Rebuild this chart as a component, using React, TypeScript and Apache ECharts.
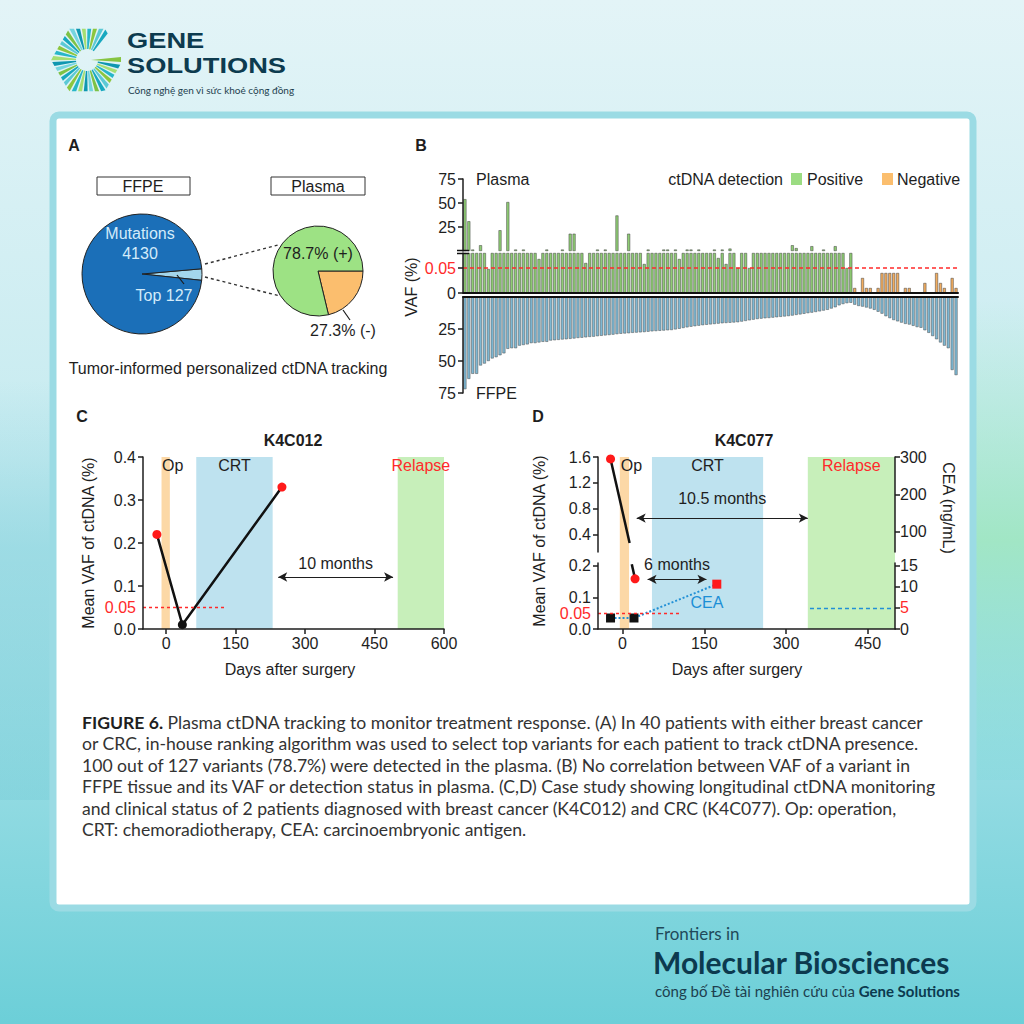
import React, { useEffect, useRef } from 'react';
import * as echarts from 'echarts';

const ARIAL = '"Liberation Sans", Arial, Helvetica, sans-serif';
const LATO = 'Lato, "Open Sans", sans-serif';
const INK = '#1e1e1e';
const RED = '#ff2a2a';

// ---------- Panel A ----------
const ffpeMutationCount = 4130;
const ffpeTopCount = 127;
const plasmaPositiveCount = 100;
const plasmaNegativeCount = 27;
const plasmaPositiveText = '78.7% (+)';
const plasmaNegativeText = '27.3% (-)';

// ---------- Panel B ----------
const plasmaVAF = [
  54, 31, 1.5, 0.4, 6, 0.5, 0.048, 0.6, 0.3, 21.6,
  0.5, 51, 0.4, 1.5, 0.6, 1.5, 0.3, 0.5, 0.4, 0.068,
  0.7, 1.5, 0.4, 0.5, 0.3, 1.5, 0.6, 18, 18, 0.4,
  0.5, 0.06, 0.3, 0.6, 1.5, 0.4, 1.5, 0.5, 0.3, 37,
  0.4, 0.5, 18, 0.6, 0.3, 0.4, 0.058, 1.5, 0.5, 0.4,
  0.3, 1.5, 1.5, 0.6, 1.5, 0.068, 0.4, 1.5, 1.5, 0.5,
  1.5, 0.3, 0.4, 0.6, 1.5, 0.07, 1.5, 0.058, 2.5, 0.4,
  0.05, 0.5, 0.3, 0.05, 0.6, 0.4, 0.5, 0.3, 0.4, 0.6,
  0.5, 0.3, 0.4, 0.5, 6, 3, 0.4, 0.6, 0.3, 5,
  0.4, 0.5, 1.5, 0.3, 0.6, 5, 0.4, 0.5, 0.05, 0.6,
  0.01, 0, 0.03, 0.01, 0.01, 0, 0.01, 0.04, 0.04, 0.04,
  0.04, 0.04, 0, 0.01, 0.01, 0, 0, 0, 0.02, 0,
  0, 0.04, 0.02, 0.01, 0, 0.03, 0.01,
];
const ffpeVAF = [
  72, 64, 60, 60, 53.5, 52, 50, 48, 47, 45.5,
  44, 40.5, 40, 40, 38, 37.5, 37, 36, 36, 35.5,
  35, 35, 34, 33.8, 33.5, 33.2, 33, 32.7, 32.4, 32,
  31.8, 31.5, 31.2, 31, 30.6, 30.3, 30, 29.7, 29.4, 29,
  28.7, 28.5, 28.3, 28, 27.8, 27.6, 27.4, 27.1, 26.8, 26.6,
  26.4, 26.2, 26, 25.8, 25.3, 24.8, 24.2, 23.7, 23.2, 22.8,
  22.4, 22, 21.7, 21.4, 21.1, 20.8, 20.5, 20.3, 20.1, 19.9,
  19.7, 19.2, 18.7, 18.2, 17.7, 17.2, 16.9, 16.6, 16.4, 16.1,
  15.8, 15.5, 15.2, 14.9, 14.5, 14, 13.6, 13.1, 12.6, 12.2,
  11.7, 11.2, 10.6, 10, 9, 8, 6.5, 5.5, 4.8, 4.5,
  6, 7, 7.5, 8.2, 9, 10, 11.5, 13, 15, 16.5,
  18, 19, 20, 21, 21.5, 22.5, 23.5, 24, 26, 28,
  30.5, 33, 35.5, 38, 40, 57, 61,
];
const bUpperTicks = [25, 50, 75];
const bLowerTicks = [0, 0.05];
const bFfpeTicks = [25, 50, 75];
const bLowerMax = 0.08;
const bUpperMax = 75;

// ---------- Panel C ----------
const cDays = [-20, 35, 250];
const cVAF = [0.22, 0.01, 0.33];
const cXTicks = [0, 150, 300, 450, 600];
const cYTicks = [0, 0.1, 0.2, 0.3, 0.4];
const cPeriodNames = ['Op', 'CRT', 'Relapse'];
const cPeriodStart = [-10, 65, 500];
const cPeriodEnd = [8, 230, 600];
const cGapDays = [242, 490];
const cGapLabel = '10 months';
const cThresholdEndDay = 130;

// ---------- Panel D ----------
const dVAFUpperDays = [-22, 13];
const dVAFUpper = [1.57, 0.27];
const dVAFUpperIsSample = [true, false];
const dVAFLowerDays = [17, 23];
const dVAFLower = [0.204, 0.158];
const dVAFLowerIsSample = [false, true];
const dCEADays = [-22, 21, 173];
const dCEA = [2.6, 2.6, 10.6];
const dXTicks = [0, 150, 300, 450];
const dUpperTicks = [0.4, 0.8, 1.2, 1.6];
const dLowerTicks = [0, 0.1, 0.2];
const dCEAUpperTicks = [100, 200, 300];
const dCEALowerTicks = [0, 5, 10, 15];
const dPeriodNames = ['Op', 'CRT', 'Relapse'];
const dPeriodStart = [-5, 54, 340];
const dPeriodEnd = [12, 258, 500];
const dLongGapDays = [26, 340];
const dLongGapLabel = '10.5 months';
const dShortGapDays = [46, 154];
const dShortGapLabel = '6 months';
const dThresholdEndDay = 105;
const dCEAThresholdDays = [344, 497];

const vafThreshold = 0.05;
const ceaThreshold = 5;

const captionLines = [
  '{b|FIGURE 6.} Plasma ctDNA tracking to monitor treatment response. (A) In 40 patients with either breast cancer',
  'or CRC, in-house ranking algorithm was used to select top variants for each patient to track ctDNA presence.',
  '100 out of 127 variants (78.7%) were detected in the plasma. (B) No correlation between VAF of a variant in',
  'FFPE tissue and its VAF or detection status in plasma. (C,D) Case study showing longitudinal ctDNA monitoring',
  'and clinical status of 2 patients diagnosed with breast cancer (K4C012) and CRC (K4C077). Op: operation,',
  'CRT: chemoradiotherapy, CEA: carcinoembryonic antigen.',
];

const GREEN = '#8fcd74';
const ORANGE = '#f2ad5f';
const FFPE_BLUE = '#7db8d4';
const BAND_COLORS = ['#fcd8a6', '#bee2ef', '#c7efba'];
const BAND_LABEL_COLORS = [INK, INK, RED];

function near(a: number, b: number) {
  return Math.abs(a - b) < 1e-9;
}

function text(x: number, y: number, str: string, opts: any = {}) {
  return {
    type: 'text',
    x,
    y,
    z: 20,
    rotation: opts.rotation || 0,
    scaleX: opts.scaleX || 1,
    style: {
      text: str,
      fontFamily: opts.fontFamily || ARIAL,
      fontSize: opts.fontSize || 16,
      fontWeight: opts.fontWeight || 'normal',
      fill: opts.fill || INK,
      align: opts.align || 'center',
      verticalAlign: opts.verticalAlign || 'middle',
      lineHeight: opts.lineHeight,
      rich: opts.rich,
    },
  };
}

function line(x1: number, y1: number, x2: number, y2: number, opts: any = {}) {
  return {
    type: 'line',
    z: 20,
    shape: { x1, y1, x2, y2 },
    style: { stroke: opts.stroke || INK, lineWidth: opts.lineWidth || 1.2, lineDash: opts.lineDash },
  };
}

function logoElements() {
  const els: any[] = [];
  const cx = 87;
  const cy = 60;
  const Rv = 36;
  const r0 = 11;
  const colors = ['#18a8bf', '#5cc9d5', '#8cc63f', '#27b6c8', '#a5de72', '#0f97b0', '#74d5df', '#7dc246'];
  const hexR = (deg: number) => {
    const m = ((deg % 60) + 60) % 60;
    return (Rv * Math.cos(Math.PI / 6)) / Math.cos(((m - 30) * Math.PI) / 180);
  };
  const pt = (deg: number, r: number) => [cx + r * Math.cos((deg * Math.PI) / 180), cy - r * Math.sin((deg * Math.PI) / 180)];
  for (let k = 0; k < 30; k++) {
    const a1 = 52 + k * 10.1;
    const a2 = a1 + 7;
    els.push({
      type: 'polygon',
      z: 20,
      shape: { points: [pt(a1, r0), pt(a1, hexR(a1)), pt(a2, hexR(a2)), pt(a2, r0)] },
      style: { fill: colors[k % colors.length] },
    });
  }
  els.push({
    type: 'polygon',
    z: 20,
    shape: { points: [[cx + 4, cy], [cx + Rv - 2, cy - 3], [cx + Rv - 2, cy + 2]] },
    style: { fill: '#86c441' },
  });
  return els;
}

function buildOption() {
  const axisLine = { show: true, onZero: false, lineStyle: { color: INK, width: 1.5 } };
  const tick = (vals: number[]) => ({ show: true, length: 5, customValues: vals, lineStyle: { color: INK, width: 1.5 } });
  const lab = (vals: number[], formatter: (v: number) => string, margin = 7) => ({
    show: true,
    customValues: vals,
    formatter,
    margin,
    fontFamily: ARIAL,
    fontSize: 16,
    color: INK,
    rich: { r: { color: RED, fontFamily: ARIAL, fontSize: 16 } },
  });

  const grids = [
    { left: 463, top: 179, width: 495, height: 72 },
    { left: 463, top: 253, width: 495, height: 40 },
    { left: 463, top: 297, width: 495, height: 96 },
    { left: 143, top: 457, width: 301, height: 172 },
    { left: 598, top: 457, width: 297, height: 172 },
    { left: 598, top: 457, width: 297, height: 95 },
    { left: 598, top: 563, width: 297, height: 66 },
  ].map((g) => ({ ...g, show: false, containLabel: false, outerBoundsMode: 'none' }));

  const cats = plasmaVAF.map((_, i) => String(i + 1));
  const barColor = (i: number) => (i < plasmaPositiveCount ? GREEN : ORANGE);

  const xAxis: any[] = [
    { type: 'category', gridIndex: 0, data: cats, show: false },
    {
      type: 'category', gridIndex: 1, data: cats, z: 5, position: 'bottom',
      axisLine: { show: true, onZero: false, lineStyle: { color: '#111', width: 2 } },
      axisTick: { show: false }, axisLabel: { show: false },
    },
    {
      type: 'category', gridIndex: 2, data: cats, z: 5, position: 'top',
      axisLine: { show: true, onZero: false, lineStyle: { color: '#111', width: 2 } },
      axisTick: { show: false }, axisLabel: { show: false },
    },
    {
      type: 'value', gridIndex: 3, min: -50, max: 600, z: 5, axisLine, axisTick: tick(cXTicks),
      axisLabel: lab(cXTicks, (v) => String(v), 6), splitLine: { show: false },
    },
    { type: 'value', gridIndex: 4, min: -45, max: 500, show: false },
    { type: 'value', gridIndex: 5, min: -45, max: 500, show: false },
    {
      type: 'value', gridIndex: 6, min: -45, max: 500, z: 5, axisLine, axisTick: tick(dXTicks),
      axisLabel: lab(dXTicks, (v) => String(v), 6), splitLine: { show: false },
    },
  ];

  const vafFmt1 = (v: number) => (near(v, vafThreshold) ? '{r|0.05}' : v.toFixed(1));

  const yAxis: any[] = [
    {
      type: 'value', gridIndex: 0, min: 0, max: bUpperMax, z: 5, axisLine, axisTick: tick(bUpperTicks),
      axisLabel: lab(bUpperTicks, (v) => String(v)), splitLine: { show: false },
    },
    {
      type: 'value', gridIndex: 1, min: 0, max: bLowerMax, z: 5, axisLine, axisTick: tick(bLowerTicks),
      axisLabel: lab(bLowerTicks, (v) => (near(v, vafThreshold) ? '{r|0.05}' : '0')), splitLine: { show: false },
    },
    {
      type: 'value', gridIndex: 2, min: 0, max: 75, inverse: true, z: 5, axisLine, axisTick: tick(bFfpeTicks),
      axisLabel: lab(bFfpeTicks, (v) => String(v)), splitLine: { show: false },
    },
    {
      type: 'value', gridIndex: 3, min: 0, max: 0.4, z: 5, axisLine, axisTick: tick(cYTicks),
      axisLabel: lab([...cYTicks, vafThreshold], vafFmt1), splitLine: { show: false },
    },
    { type: 'value', gridIndex: 4, min: 0, max: 1, show: false },
    {
      type: 'value', gridIndex: 5, min: 0.13, max: 1.6, position: 'left', z: 5, axisLine, axisTick: tick(dUpperTicks),
      axisLabel: lab(dUpperTicks, (v) => v.toFixed(1)), splitLine: { show: false },
    },
    {
      type: 'value', gridIndex: 5, min: 45, max: 300, position: 'right', z: 5, axisLine, axisTick: tick(dCEAUpperTicks),
      axisLabel: lab(dCEAUpperTicks, (v) => String(v), 5), splitLine: { show: false },
    },
    {
      type: 'value', gridIndex: 6, min: 0, max: 0.208, position: 'left', z: 5, axisLine, axisTick: tick(dLowerTicks),
      axisLabel: lab([...dLowerTicks, vafThreshold], vafFmt1), splitLine: { show: false },
    },
    {
      type: 'value', gridIndex: 6, min: 0, max: 15.6, position: 'right', z: 5, axisLine, axisTick: tick(dCEALowerTicks),
      axisLabel: lab(dCEALowerTicks, (v) => (near(v, ceaThreshold) ? '{r|5}' : String(v)), 5), splitLine: { show: false },
    },
  ];

  const barBorder = { borderColor: '#3f3f3f', borderWidth: 0.5 };

  const bandData = (names: string[], start: number[], end: number[], opOffset: number) =>
    names.map((n, i) => [
      {
        name: n,
        xAxis: start[i],
        itemStyle: { color: BAND_COLORS[i] },
        label: {
          show: true, position: 'insideTop', distance: 0, formatter: '{b}',
          color: BAND_LABEL_COLORS[i], fontFamily: ARIAL, fontSize: 16,
          offset: [i === 0 ? opOffset : 0, 0],
        },
      },
      { xAxis: end[i] },
    ]);

  const arrowLabel = { show: true, position: 'middle', formatter: '{b}', color: INK, fontFamily: ARIAL, fontSize: 16 };

  const thresholdLine = (color: string, dash: number[], from: number[], to: number[]) => ({
    silent: true,
    symbol: ['none', 'none'],
    label: { show: false },
    lineStyle: { color, type: dash, width: 1.3 },
    data: [[{ coord: from, lineStyle: { color, type: dash, width: 1.3 } }, { coord: to }]],
  });

  const vafPoint = (x: number, y: number, show: boolean) => ({
    value: [x, y],
    symbol: show ? 'circle' : 'none',
    symbolSize: 9,
    itemStyle: { color: y >= vafThreshold ? '#ff1a1a' : '#111' },
  });

  const series: any[] = [
    // Panel A pies
    {
      type: 'pie', center: [142, 274], radius: 60, startAngle: 5, clockwise: true, silent: true,
      label: { show: false }, labelLine: { show: false },
      itemStyle: { borderColor: '#222', borderWidth: 1 },
      data: [
        { name: 'Top 127', value: ffpeTopCount, itemStyle: { color: '#a3d6ec' } },
        { name: 'Mutations', value: ffpeMutationCount - ffpeTopCount, itemStyle: { color: '#1b6fb8' } },
      ],
    },
    {
      type: 'pie', center: [318, 271], radius: 45, startAngle: 0, clockwise: true, silent: true,
      label: { show: false }, labelLine: { show: false },
      itemStyle: { borderColor: '#222', borderWidth: 1 },
      data: [
        { name: 'Negative', value: plasmaNegativeCount, itemStyle: { color: '#fbbe6e' } },
        { name: 'Positive', value: plasmaPositiveCount, itemStyle: { color: '#9de284' } },
      ],
    },
    // Panel B
    {
      type: 'bar', xAxisIndex: 0, yAxisIndex: 0, barWidth: '76%', silent: true,
      data: plasmaVAF.map((v, i) => (v >= 1 ? { value: v, itemStyle: { color: barColor(i), ...barBorder } } : '-')),
    },
    {
      type: 'bar', xAxisIndex: 1, yAxisIndex: 1, barWidth: '76%', silent: true,
      data: plasmaVAF.map((v, i) => ({ value: Math.min(v, bLowerMax), itemStyle: { color: barColor(i), ...barBorder } })),
      markLine: {
        silent: true, symbol: ['none', 'none'], label: { show: false },
        lineStyle: { color: RED, type: [4, 3], width: 1.5 },
        data: [{ yAxis: vafThreshold }],
      },
    },
    {
      type: 'bar', xAxisIndex: 2, yAxisIndex: 2, barWidth: '76%', silent: true,
      itemStyle: { color: FFPE_BLUE, borderColor: '#4d4d4d', borderWidth: 0.5 },
      data: ffpeVAF,
    },
    // Panel C
    {
      type: 'line', xAxisIndex: 3, yAxisIndex: 3, data: [], silent: true,
      markArea: { silent: true, data: bandData(cPeriodNames, cPeriodStart, cPeriodEnd, 7) },
      markLine: {
        silent: true, symbol: ['arrow', 'arrow'], symbolSize: [7, 9],
        lineStyle: { color: INK, width: 1.2, type: 'solid' },
        label: { ...arrowLabel, distance: 5 },
        data: [[{ name: cGapLabel, coord: [cGapDays[0], 0.121] }, { coord: [cGapDays[1], 0.121] }]],
      },
    },
    {
      type: 'line', xAxisIndex: 3, yAxisIndex: 3, data: [], silent: true, color: RED,
      markLine: thresholdLine(RED, [3, 3], [-50, vafThreshold], [cThresholdEndDay, vafThreshold]),
    },
    {
      type: 'line', xAxisIndex: 3, yAxisIndex: 3, silent: true,
      lineStyle: { color: '#111', width: 2.5 },
      data: cDays.map((d, i) => vafPoint(d, cVAF[i], true)),
    },
    // Panel D
    {
      type: 'line', xAxisIndex: 4, yAxisIndex: 4, data: [], silent: true,
      markArea: { silent: true, data: bandData(dPeriodNames, dPeriodStart, dPeriodEnd, 7) },
      markLine: {
        silent: true, symbol: ['arrow', 'arrow'], symbolSize: [7, 9],
        lineStyle: { color: INK, width: 1.2, type: 'solid' },
        label: arrowLabel,
        data: [
          [{ name: dLongGapLabel, coord: [dLongGapDays[0], 0.645], label: { distance: 12 } }, { coord: [dLongGapDays[1], 0.645] }],
          [{ name: dShortGapLabel, coord: [dShortGapDays[0], 0.289], label: { distance: 7 } }, { coord: [dShortGapDays[1], 0.289] }],
        ],
      },
    },
    {
      type: 'line', xAxisIndex: 6, yAxisIndex: 7, data: [], silent: true, color: RED,
      markLine: thresholdLine(RED, [3, 3], [-45, vafThreshold], [dThresholdEndDay, vafThreshold]),
    },
    {
      type: 'line', xAxisIndex: 6, yAxisIndex: 8, data: [], silent: true, color: '#2290d6',
      markLine: thresholdLine('#2290d6', [4, 3], [dCEAThresholdDays[0], ceaThreshold], [dCEAThresholdDays[1], ceaThreshold]),
    },
    {
      type: 'line', xAxisIndex: 5, yAxisIndex: 5, silent: true,
      lineStyle: { color: '#111', width: 2.5 },
      data: dVAFUpperDays.map((d, i) => vafPoint(d, dVAFUpper[i], dVAFUpperIsSample[i])),
    },
    {
      type: 'line', xAxisIndex: 6, yAxisIndex: 7, silent: true,
      lineStyle: { color: '#111', width: 2.5 },
      data: dVAFLowerDays.map((d, i) => vafPoint(d, dVAFLower[i], dVAFLowerIsSample[i])),
    },
    {
      type: 'line', xAxisIndex: 6, yAxisIndex: 8, silent: true,
      lineStyle: { color: '#2290d6', width: 2, type: [2, 2] },
      data: dCEADays.map((d, i) => ({
        value: [d, dCEA[i]],
        symbol: 'rect',
        symbolSize: 9,
        itemStyle: { color: dCEA[i] >= ceaThreshold ? '#ff1a1a' : '#111' },
      })),
    },
  ];

  const bg = new echarts.graphic.LinearGradient(0, 0, 0, 1, [
    { offset: 0, color: '#e3f4f7' },
    { offset: 0.45, color: '#c6ebf0' },
    { offset: 1, color: '#6ccfd8' },
  ]);
  const mint = new echarts.graphic.LinearGradient(0, 0, 0, 1, [
    { offset: 0, color: 'rgba(168,232,205,0)' },
    { offset: 0.5, color: 'rgba(160,230,195,0.95)' },
    { offset: 1, color: 'rgba(120,215,215,0.2)' },
  ]);
  const leftTeal = new echarts.graphic.LinearGradient(0, 0, 0, 1, [
    { offset: 0, color: 'rgba(130,208,220,0)' },
    { offset: 0.4, color: 'rgba(130,208,220,0.5)' },
    { offset: 1, color: 'rgba(110,200,212,0.3)' },
  ]);

  const graphic: any[] = [
    { type: 'rect', z: -100, shape: { x: 0, y: 0, width: 1024, height: 1024 }, style: { fill: bg } },
    { type: 'rect', z: -99, shape: { x: 974, y: 300, width: 50, height: 480 }, style: { fill: mint } },
    { type: 'rect', z: -99, shape: { x: 0, y: 380, width: 52, height: 420 }, style: { fill: leftTeal } },
    { type: 'rect', z: -90, shape: { x: 53, y: 115, width: 920, height: 793, r: 6 }, style: { fill: '#ffffff', stroke: '#9bdbe4', lineWidth: 7 } },
    ...logoElements(),
    text(127, 40, 'GENE', { align: 'left', fontWeight: 'bold', fontSize: 22, scaleX: 1.24, fill: '#0d3b4f' }),
    text(127, 65.5, 'SOLUTIONS', { align: 'left', fontWeight: 'bold', fontSize: 22, scaleX: 1.24, fill: '#0d3b4f' }),
    text(128, 90, 'Công nghệ gen vì sức khoẻ cộng đồng', { align: 'left', fontFamily: LATO, fontSize: 10, fill: '#1d3f4f' }),

    // Panel letters
    text(74, 145, 'A', { fontWeight: 'bold', fontSize: 16 }),
    text(421, 145, 'B', { fontWeight: 'bold', fontSize: 16 }),
    text(82, 416, 'C', { fontWeight: 'bold', fontSize: 16 }),
    text(538, 416, 'D', { fontWeight: 'bold', fontSize: 16 }),

    // Panel A
    { type: 'rect', z: 20, shape: { x: 97, y: 177, width: 93, height: 18 }, style: { fill: '#fff', stroke: '#333', lineWidth: 1 } },
    { type: 'rect', z: 20, shape: { x: 271, y: 177, width: 94, height: 18 }, style: { fill: '#fff', stroke: '#333', lineWidth: 1 } },
    text(143, 186, 'FFPE'),
    text(318, 186, 'Plasma'),
    text(140, 243, 'Mutations\n' + ffpeMutationCount, { fill: '#d3ebfa', lineHeight: 20 }),
    text(164, 295, 'Top ' + ffpeTopCount, { fill: '#d3ebfa' }),
    line(177, 275, 184, 284, { stroke: '#1a1a1a' }),
    line(205, 264, 278, 245, { stroke: '#333', lineWidth: 1.4, lineDash: [3, 3] }),
    line(205, 277, 280, 296, { stroke: '#333', lineWidth: 1.4, lineDash: [3, 3] }),
    text(318, 253, plasmaPositiveText),
    text(343, 330, plasmaNegativeText),
    line(343, 310, 350, 320, { stroke: '#1a1a1a' }),
    text(228, 368, 'Tumor-informed personalized ctDNA tracking'),

    // Panel B
    text(476, 179, 'Plasma', { align: 'left' }),
    text(476, 393, 'FFPE', { align: 'left' }),
    text(783, 179, 'ctDNA detection', { align: 'right' }),
    { type: 'rect', z: 20, shape: { x: 791, y: 173, width: 11, height: 12 }, style: { fill: '#9bdc82' } },
    text(807, 179, 'Positive', { align: 'left' }),
    { type: 'rect', z: 20, shape: { x: 882, y: 173, width: 11, height: 12 }, style: { fill: '#fbbe6e' } },
    text(897, 179, 'Negative', { align: 'left' }),
    text(411, 287, 'VAF (%)', { rotation: Math.PI / 2 }),
    line(457, 250.5, 469, 250.5, { stroke: '#111', lineWidth: 1.5 }),
    line(457, 253.5, 469, 253.5, { stroke: '#111', lineWidth: 1.5 }),

    // Panel C
    text(293, 440, 'K4C012', { fontWeight: 'bold' }),
    text(88, 543, 'Mean VAF of ctDNA (%)', { rotation: Math.PI / 2 }),
    text(290, 669, 'Days after surgery'),

    // Panel D
    text(744, 440, 'K4C077', { fontWeight: 'bold' }),
    text(539, 541, 'Mean VAF of ctDNA (%)', { rotation: Math.PI / 2 }),
    text(948, 508, 'CEA (ng/mL)', { rotation: -Math.PI / 2 }),
    text(737, 669, 'Days after surgery'),
    text(707, 602, 'CEA', { fill: '#1c8fd6' }),

    // Caption
    ...captionLines.map((t, i) =>
      text(82, 722 + i * 21.5, t, {
        align: 'left', fontFamily: LATO, fontSize: 17.6, fill: '#333',
        rich: { b: { fontFamily: LATO, fontSize: 17.6, fontWeight: 'bold', fill: '#1f1f1f' } },
      })
    ),

    // Footer
    text(655, 933, 'Frontiers in', { align: 'left', fontFamily: LATO, fontSize: 17, fill: '#21495a' }),
    text(653, 962, 'Molecular Biosciences', { align: 'left', fontFamily: LATO, fontWeight: 'bold', fontSize: 30, fill: '#0c3a4f' }),
    text(655, 991, '{n|công bố Đề tài nghiên cứu của }{b|Gene Solutions}', {
      align: 'left', fontFamily: LATO, fontSize: 15, fill: '#1d3f4f',
      rich: {
        n: { fontFamily: LATO, fontSize: 15, fill: '#1d3f4f' },
        b: { fontFamily: LATO, fontSize: 15, fontWeight: 'bold', fill: '#0c3a4f' },
      },
    }),
  ];

  return {
    animation: false,
    textStyle: { fontFamily: ARIAL },
    grid: grids,
    xAxis,
    yAxis,
    series,
    graphic,
  };
}

export default function App() {
  const ref = useRef<HTMLDivElement>(null);
  useEffect(() => {
    document.body.style.margin = '0';
    const chart = echarts.init(ref.current as HTMLDivElement, undefined, { renderer: 'svg', width: 1024, height: 1024 });
    chart.setOption(buildOption() as any);
    return () => chart.dispose();
  }, []);
  return <div ref={ref} style={{ position: 'absolute', left: 0, top: 0, width: 1024, height: 1024 }} />;
}
